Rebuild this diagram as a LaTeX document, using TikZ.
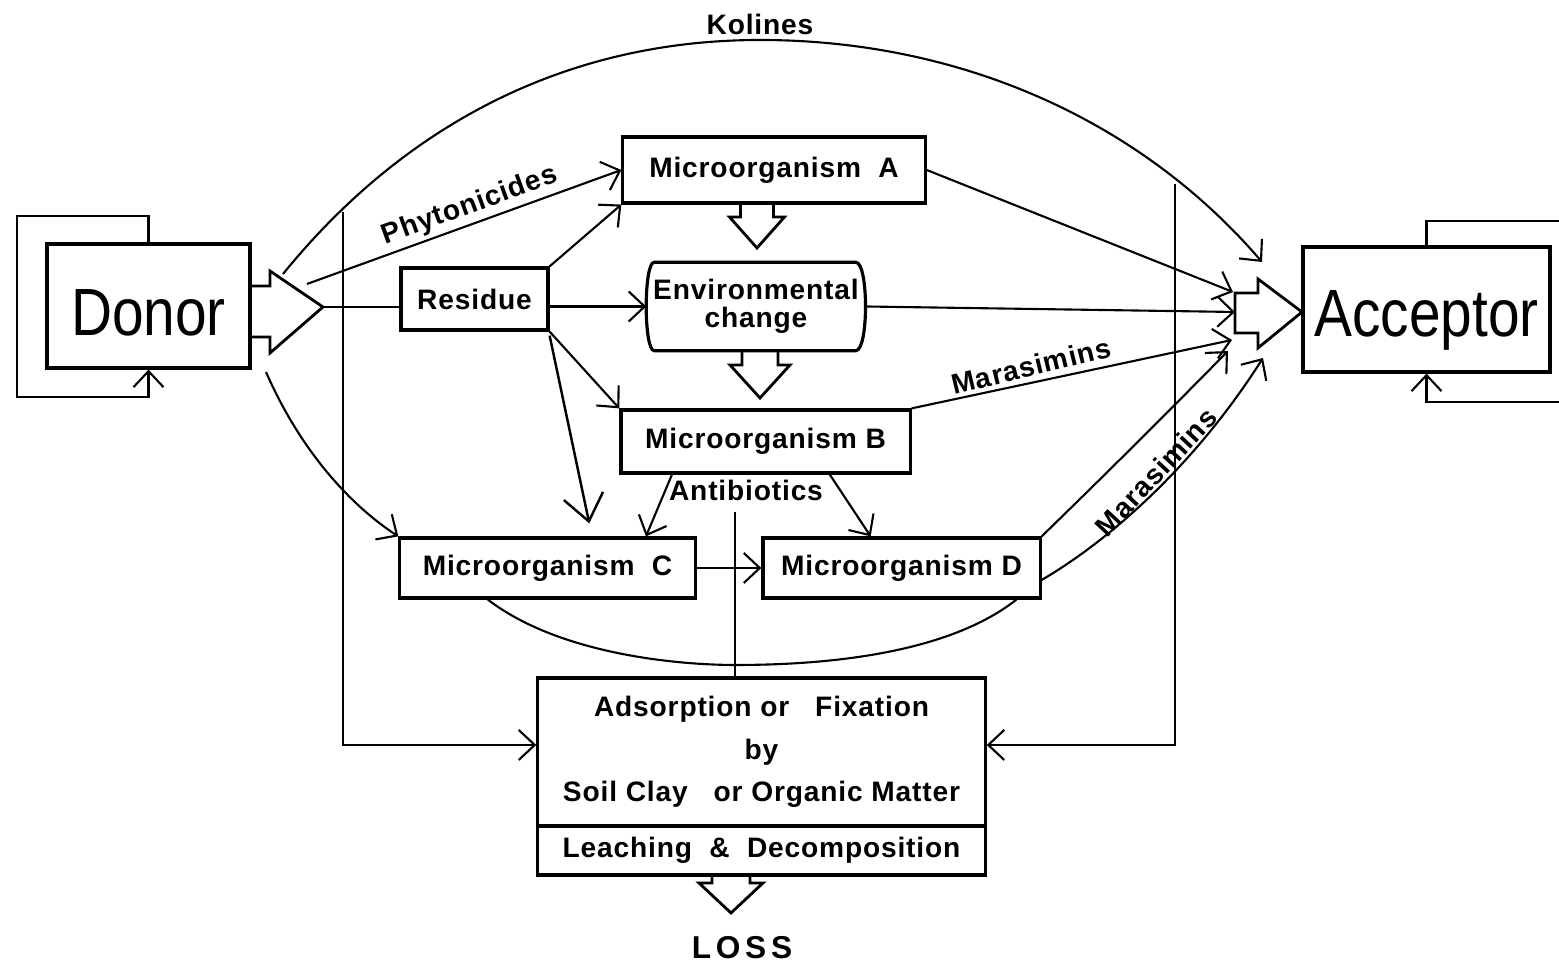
\documentclass[tikz,border=0pt]{standalone}
\usepackage{fontspec}
\usepackage{tikz}
\usetikzlibrary{arrows.meta,calc}
\newfontfamily\bigfont[FakeStretch=0.85]{Liberation Sans}
\newfontfamily\lblfont[LetterSpace=3]{Liberation Sans}
\newcommand{\fatdown}[5]{\draw[fat] (#1) ++(-#2,0) -- ++(0,#3) -- ++(#2-#4,0) -- ++(#4,#5) -- ++(#4,-#5) -- ++(#2-#4,0) -- ++(0,-#3);}

\begin{document}
\begin{tikzpicture}[x=0.01cm, y=-0.01cm,
	box/.style={draw, line width=0.9pt, inner sep=0pt, font=\lblfont\bfseries\fontsize{8}{9.6}\selectfont},
	big/.style={draw, line width=0.9pt, inner sep=0pt, font=\bigfont\fontsize{19}{22}\selectfont, text depth=0pt},
	lbl/.style={font=\lblfont\bfseries\fontsize{8}{9.6}\selectfont, inner sep=1pt},
	conn/.style={line width=0.6pt, -{Straight Barb[length=1.6mm,width=3mm]}},
	bigtip/.style={line width=0.7pt, -{Straight Barb[length=2.6mm,width=4mm]}},
	wire/.style={line width=0.6pt},
	wall/.style={line width=0.9pt},
	fat/.style={line width=0.8pt, line join=miter}]
	\useasboundingbox (0,0) rectangle (1559,965);

	\node(donor) [big, minimum width=2.03cm, minimum height=1.24cm, text height=17pt] at (148.5,306) {Donor};
	\node(acceptor) [big, minimum width=2.47cm, minimum height=1.25cm, text height=15.3pt] at (1426.5,309.5) {Acceptor};
	\node(micA) [box, minimum width=3.02cm, minimum height=0.66cm] at (774,170) {Microorganism\ \ A};
	\node(residue) [box, minimum width=1.47cm, minimum height=0.62cm] at (474.5,299) {Residue};
	\node(env) [lbl, minimum width=2.18cm, minimum height=0.87cm, align=center, font=\lblfont\bfseries\fontsize{8}{7.8}\selectfont] at (756,306.5) {Environmental\\change};
	\node(micB) [box, minimum width=2.89cm, minimum height=0.63cm] at (765.5,441.5) {Microorganism B};
	\node(micC) [box, minimum width=2.95cm, minimum height=0.60cm] at (547.5,568) {Microorganism\ \ C};
	\node(micD) [box, minimum width=2.77cm, minimum height=0.60cm] at (901.5,568) {Microorganism D};
	\node(ads) [box, minimum width=4.47cm, minimum height=1.48cm, align=center, font=\lblfont\bfseries\fontsize{8}{12}\selectfont] at (761.5,752) {Adsorption or\ \ \ Fixation\\by\\Soil Clay\ \ \ or Organic Matter};
	\node(leach) [box, minimum width=4.47cm, minimum height=0.49cm] at (761.5,850.5) {Leaching\ \ \&\ \ Decomposition};

	\node(kol) [lbl] at (760,24) {Kolines};
	\node(phyto) [lbl, rotate=20] at (470,206) {Phytonicides};
	\node(maras1) [lbl, rotate=13.5] at (1031,366) {Marasimins};
	\node(maras2) [lbl, rotate=47] at (1156,472) {Marasimins};
	\node(anti) [lbl] at (746,490) {Antibiotics};
	\node(loss) [lbl, font=\lblfont\bfseries\fontsize{9}{10}\selectfont] at (742,948) {\addfontfeature{LetterSpace=15}LOSS};

	\coordinate(dtop) at (283,274);
	\coordinate(dup) at (307,284);
	\coordinate(dtip) at (323,307);
	\coordinate(dlow) at (266,372);
	\coordinate(atop) at (1262,262);
	\coordinate(ain1) at (1233,292);
	\coordinate(ain2) at (1235,312);
	\coordinate(ain3) at (1232,340);
	\coordinate(ain4) at (1228,351);
	\coordinate(abot) at (1263,358);
	\coordinate(lv) at (343,212);
	\coordinate(rv) at (1175,184);
	\coordinate(vtop) at (735,512);
	\coordinate(merge) at (735,665);

	\draw[line width=0.9pt] ([xshift=0.08cm]env.north west) -- ([xshift=-0.1cm]env.north east) .. controls ([xshift=0.03cm]env.north east) and ([xshift=0.03cm]env.south east) .. ([xshift=-0.1cm]env.south east) -- ([xshift=0.08cm]env.south west) .. controls ([xshift=-0.027cm]env.south west) and ([xshift=-0.027cm]env.north west) .. cycle;

	\draw[fat] (250,286) -- (270,286) -- (270,271) -- (dtip) -- (270,353) -- (270,337) -- (250,337);
	\draw[fat] (1235,293) -- (1258,293) -- (1258,279) -- (1302,312) -- (1258,348) -- (1258,333) -- (1235,333) -- cycle;
	\fatdown{757,204}{16.5}{13}{27.5}{31}
	\fatdown{760,350}{18}{15}{30}{33}
	\fatdown{731,875}{19}{8}{32}{30}

	\draw[conn] (donor.north) |- (17,216) -- (17,397) -| (donor.south);
	\draw[wire] (acceptor.north) |- (1559,221);
	\draw[conn] (1559,402) -| (acceptor.south);

	\draw[conn] (dtop) .. controls (400,130) and (560,40) .. (760,40) .. controls (960,40) and (1140,120) .. (atop);
	\draw[conn] (dup) -- (micA.west);
	\draw[wire] (dtip) -- (dtip -| residue.west);
	\draw[conn] (residue.north east) -- (micA.south west);
	\draw[conn] (residue.east |- env.west) -- (env.west);
	\draw[conn] (residue.south east) -- (micB.north west);
	\draw[bigtip] ([yshift=-0.04cm]residue.south east) -- ($(micC.north west)!0.64!(micC.north east)+(0,-13)$);
	\draw[conn] (dlow) .. controls (300,450) and (350,505) .. (micC.north west);
	\draw[conn] (micA.east) -- (ain1);
	\draw[conn] (env.east) -- (ain2);
	\draw[conn] (micB.north east) -- (ain3);
	\draw[conn] ($(micB.south west)!0.18!(micB.south east)$) -- ($(micC.north west)!0.83!(micC.north east)$);
	\draw[conn] ($(micB.south west)!0.72!(micB.south east)$) -- ($(micD.north west)!0.39!(micD.north east)$);
	\draw[conn] (micC.east) -- (micD.west);
	\draw[conn] (micD.north east) .. controls (1110,470) and (1170,410) .. (ain4);
	\draw[conn] ([yshift=-0.12cm]micD.east) .. controls (1110,540) and (1195,465) .. (abot);
	\draw[wire] ($(micC.south west)!0.3!(micC.south east)$) .. controls (560,655) and (680,665) .. (merge);
	\draw[wire] ($(micD.south west)!0.91!(micD.south east)$) .. controls (940,660) and (800,665) .. (merge);
	\draw[wire] (vtop) -- (vtop |- ads.north);
	\draw[wall, conn] (lv) |- ([yshift=0.07cm]ads.west);
	\draw[wall, conn] (rv) |- ([yshift=0.07cm]ads.east);
\end{tikzpicture}
\end{document}
